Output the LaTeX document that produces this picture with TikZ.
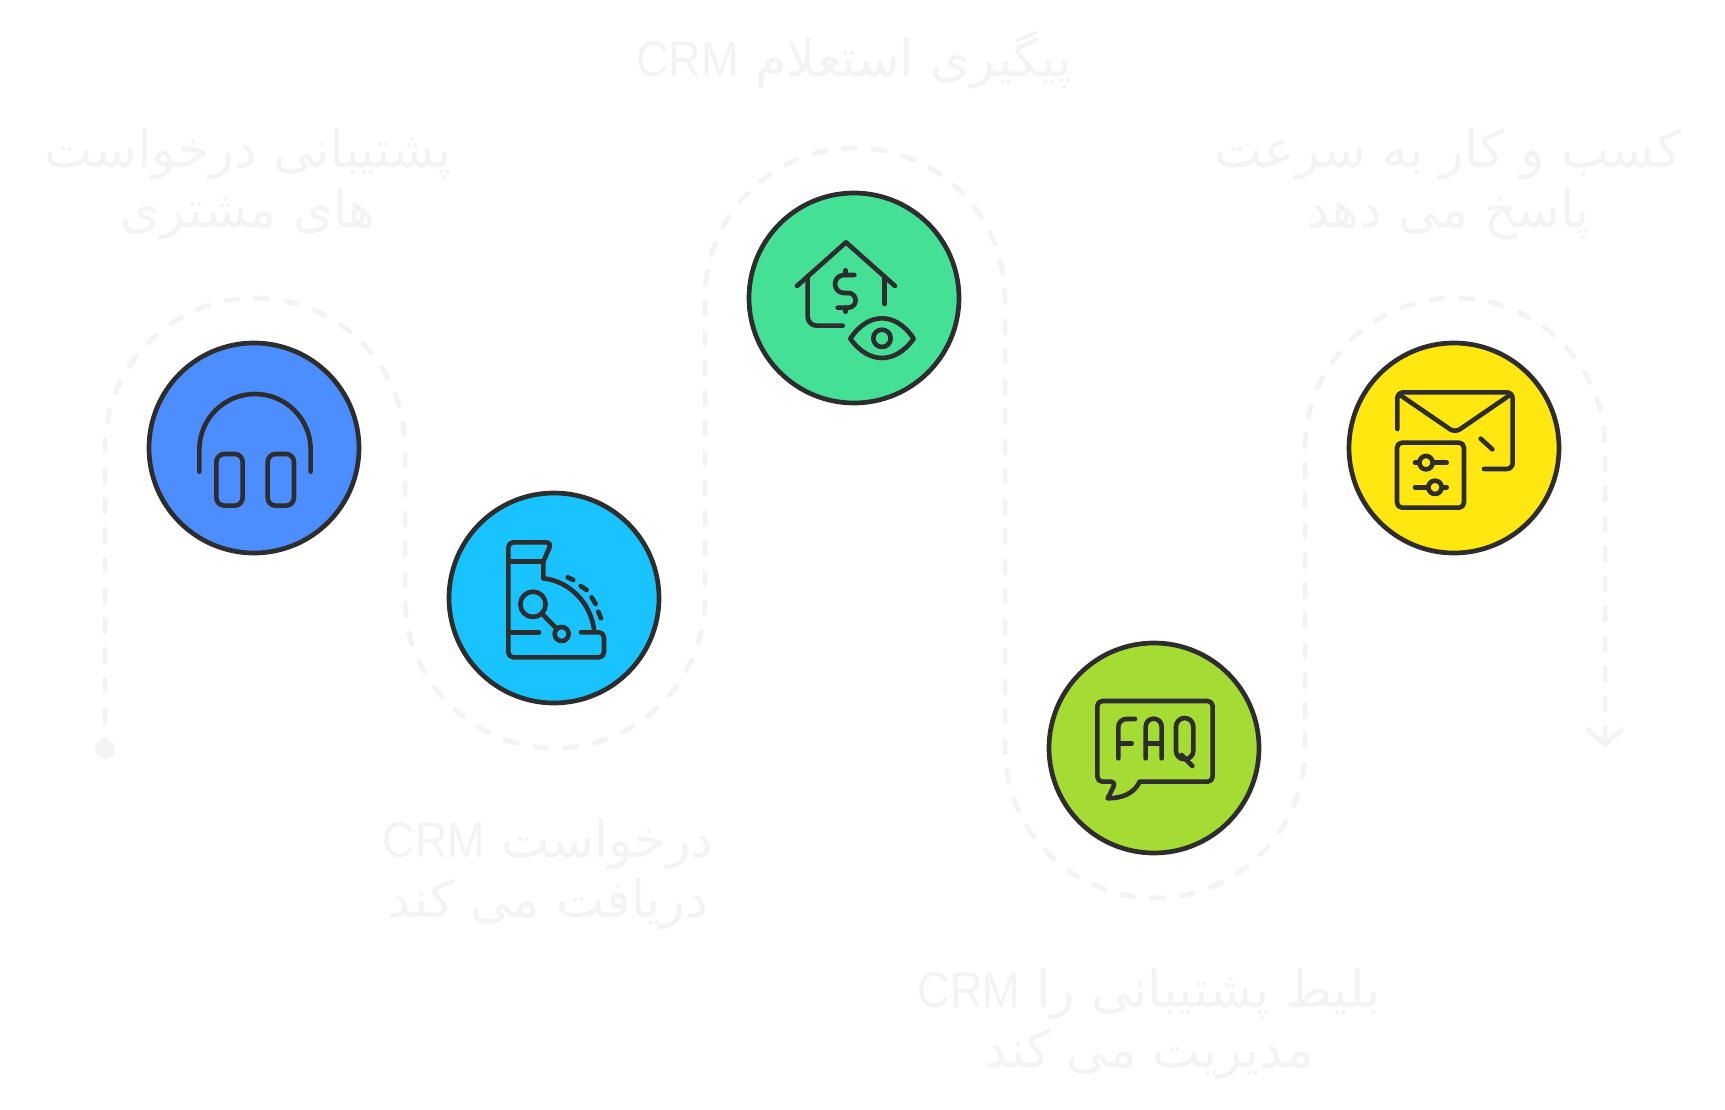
\documentclass[tikz,border=0pt]{standalone}
\usepackage{fontspec}
\newfontfamily\farsifont[Script=Arabic]{DejaVu Sans}
\newfontfamily\crmfont[FakeStretch=0.9]{Liberation Sans}
\TeXXeTstate=1
\usetikzlibrary{arrows.meta}
\definecolor{StepBlue}{HTML}{4C8EFF}
\definecolor{StepCyan}{HTML}{19C3FF}
\definecolor{StepMint}{HTML}{43E096}
\definecolor{StepLime}{HTML}{A5DC34}
\definecolor{StepGold}{HTML}{FFE70F}
\definecolor{Ink}{HTML}{2D2D2D}
\definecolor{Faint}{HTML}{F3F3F4}
\newcommand{\rtl}[1]{\beginR #1\endR}
\newcommand{\crm}{\beginL{\crmfont\fontsize{50}{60}\selectfont CRM}\endL}
\tikzset{
  stage/.style={circle, draw=Ink, line width=4.7pt, inner sep=0pt, outer sep=0pt, minimum size=210pt},
  trail/.style={draw=Faint, line width=5pt, line cap=round,
                dash pattern=on 12pt off 18pt, dash phase=2.5pt},
  icon/.style={draw=Ink, line width=4.6pt, line cap=round, line join=round},
  lbl/.style={font=\fontsize{51}{60}\selectfont\farsifont, text=Faint, align=center,
              inner sep=0pt, anchor=base},
}
\begin{document}
\begin{tikzpicture}[x=1pt,y=-1pt]
\useasboundingbox (0,0) rectangle (1725,1110);

% ---------------- dashed trail ------------------------------------------------
\node[circle, fill=Faint, inner sep=0pt, minimum size=20pt] (start) at (105,749) {};
\draw[trail, -{Straight Barb[length=15pt,width=34pt,round]}] (start.center) -- (105,448)
  arc[start angle=180,end angle=360,radius=150] -- (405,598)
  arc[start angle=180,end angle=0,radius=150] -- (705,298)
  arc[start angle=180,end angle=360,radius=150] -- (1005,748)
  arc[start angle=180,end angle=0,radius=150] -- (1305,448)
  arc[start angle=180,end angle=360,radius=150] -- (1605,747);

% ---------------- five stages --------------------------------------------------
\foreach \n/\x/\y/\c in {a/254/448/StepBlue,b/554/598/StepCyan,c/854/298/StepMint,
                         d/1154/748/StepLime,e/1454/448/StepGold}{
  \node[stage, fill=\c] (\n) at (\x,\y) {};}

% ---------------- headset ------------------------------------------------------
\begin{scope}[shift={(130,330)},scale=0.3333]
  \draw[icon] (208,425) -- (208,359) arc[start angle=180,end angle=360,radius=167] -- (542,425);
  \draw[icon, rounded corners=8pt] (259,372) rectangle (338,527);
  \draw[icon, rounded corners=8pt] (413,372) rectangle (492,527);
\end{scope}

% ---------------- cash register ----------------------------------------------------
\begin{scope}[shift={(435,480)},scale=0.3333]
  \draw[icon, rounded corners=5pt] (438,457) -- (507,457) -- (507,532) -- (220,532) -- (220,187) -- (350,187)
    [sharp corners] -- (325,245) -- (325,295);
  \draw[icon] (325,295) .. controls (410,305) and (470,375) .. (478,455);
  \draw[icon] (222,245) -- (325,245);
  \draw[icon] (228,457) -- (312,457);
  \draw[icon] (294,373) circle[radius=38];
  \draw[icon] (322,402) -- (364,445);
  \draw[icon] (380,462) circle[radius=21];
  \draw[icon] (398,292) -- (415,300) (437,318) -- (455,330) (470,352) -- (482,372) (490,395) -- (498,415);
\end{scope}

% ---------------- house with eye ---------------------------------------------------
\begin{scope}[shift={(735,180)},scale=0.3333]
  \draw[icon] (186,318) -- (333,187) -- (480,318);
  \draw[icon, rounded corners=9pt] (218,290) -- (218,437) -- (323,437);
  \draw[icon] (449,290) -- (449,372);
  \draw[icon] (358,285) -- (327,285) arc[start angle=270,end angle=90,radius=27] -- (340,339)
    arc[start angle=-90,end angle=90,radius=22] -- (308,383);
  \draw[icon] (332,271) -- (332,285) (332,383) -- (332,395);
  \draw[icon] (346,476) .. controls (375,432) and (410,415) .. (441,415) .. controls (472,415) and (507,432) .. (536,476)
    .. controls (507,517) and (472,534) .. (441,534) .. controls (410,534) and (375,517) .. cycle;
  \draw[icon] (441,475) circle[radius=26];
\end{scope}

% ---------------- FAQ bubble --------------------------------------------------------
\begin{scope}[shift={(1035,630)},scale=0.3333]
  \draw[icon, rounded corners=5pt] (314,455) -- (533,455) -- (533,213) -- (187,213) -- (187,455) -- (243,455)
    [sharp corners] -- (218,505) .. controls (262,505) and (298,490) .. (314,455);
  \draw[icon, rounded corners=8pt] (250,385) -- (250,267) -- (300,267);
  \draw[icon] (250,340) -- (290,340);
  \draw[icon] (332,385) -- (332,290) arc[start angle=180,end angle=360,radius=24] -- (380,385);
  \draw[icon] (332,340) -- (380,340);
  \draw[icon] (423,290) arc[start angle=180,end angle=360,radius=26] -- (475,362)
    arc[start angle=0,end angle=180,radius=26] -- cycle;
  \draw[icon] (440,375) -- (472,408);
\end{scope}

% ---------------- envelope with sliders ----------------------------------------------
\begin{scope}[shift={(1335,330)},scale=0.3333]
  \draw[icon, rounded corners=6pt] (187,297) -- (187,187) -- (533,187) -- (533,417) -- (447,417);
  \draw[icon, rounded corners=6pt] (195,195) -- (360,308) -- (525,195);
  \draw[icon] (437,326) -- (472,358);
  \draw[icon, rounded corners=5pt] (186,338) rectangle (387,533);
  \draw[icon] (240,398) -- (335,398) (240,472) -- (335,472);
  \draw[icon, fill=StepGold] (273,398) circle[radius=20];
  \draw[icon, fill=StepGold] (300,472) circle[radius=20];
\end{scope}

% ---------------- labels --------------------------------------------------------------
\node[lbl] (la) at (248,228) {\rtl{پشتیبانی درخواست}\\\rtl{های مشتری}};
\node[lbl] (lb) at (548,917) {\rtl{درخواست \crm}\\\rtl{دریافت می کند}};
\node[lbl] (lc) at (854,77) {\rtl{پیگیری استعلام \crm}};
\node[lbl] (ld) at (1149,1067) {\rtl{بلیط پشتیبانی را \crm}\\\rtl{مدیریت می کند}};
\node[lbl] (le) at (1448,228) {\rtl{کسب و کار به سرعت}\\\rtl{پاسخ می دهد}};

\end{tikzpicture}
\end{document}
